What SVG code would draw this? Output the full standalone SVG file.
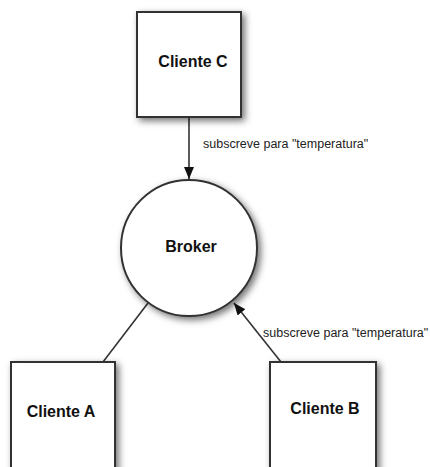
<svg xmlns="http://www.w3.org/2000/svg" width="430" height="467" viewBox="0 0 430 467">
<style>
.node{fill:#fff;stroke:#333;stroke-width:2;filter:url(#sh)}
.lbl{font-family:"Liberation Sans",Arial,sans-serif;font-weight:bold;font-size:16px;fill:#111;text-anchor:middle}
.edge{stroke:#333;stroke-width:1.6;fill:none}
.elbl{font-family:"Liberation Sans",Arial,sans-serif;font-size:12.5px;fill:#222}
</style>
<defs>
<filter id="sh" x="-20%" y="-20%" width="150%" height="150%">
<feDropShadow dx="3" dy="3" stdDeviation="3.5" flood-color="#000" flood-opacity="0.55"/>
</filter>
<marker id="arr" viewBox="0 0 12 10" refX="12" refY="5" markerWidth="12" markerHeight="10" markerUnits="userSpaceOnUse" orient="auto">
<path d="M0,0 L12,5 L0,10 z" fill="#111"/>
</marker>
</defs>
<rect width="430" height="467" fill="#fff"/>
<g id="connectors">
<line class="edge" x1="189" y1="117" x2="189" y2="179" marker-end="url(#arr)"/>
<line class="edge" x1="103" y1="362" x2="148" y2="303"/>
<line class="edge" x1="281" y1="362" x2="234" y2="303" marker-end="url(#arr)"/>
<text class="elbl" x="203" y="148">subscreve para "temperatura"</text>
<text class="elbl" x="263" y="337">subscreve para "temperatura"</text>
</g>
<g id="broker">
<circle class="node" cx="189" cy="248" r="68"/>
<text class="lbl" x="191" y="251.5">Broker</text>
</g>
<g id="cliente-c">
<rect class="node" x="137" y="12" width="104" height="105"/>
<text class="lbl" x="193" y="66.5">Cliente C</text>
</g>
<g id="cliente-a">
<rect class="node" x="11" y="362" width="104" height="110"/>
<text class="lbl" x="61" y="416.5">Cliente A</text>
</g>
<g id="cliente-b">
<rect class="node" x="270" y="362" width="106" height="110"/>
<text class="lbl" x="325" y="414">Cliente B</text>
</g>
</svg>
